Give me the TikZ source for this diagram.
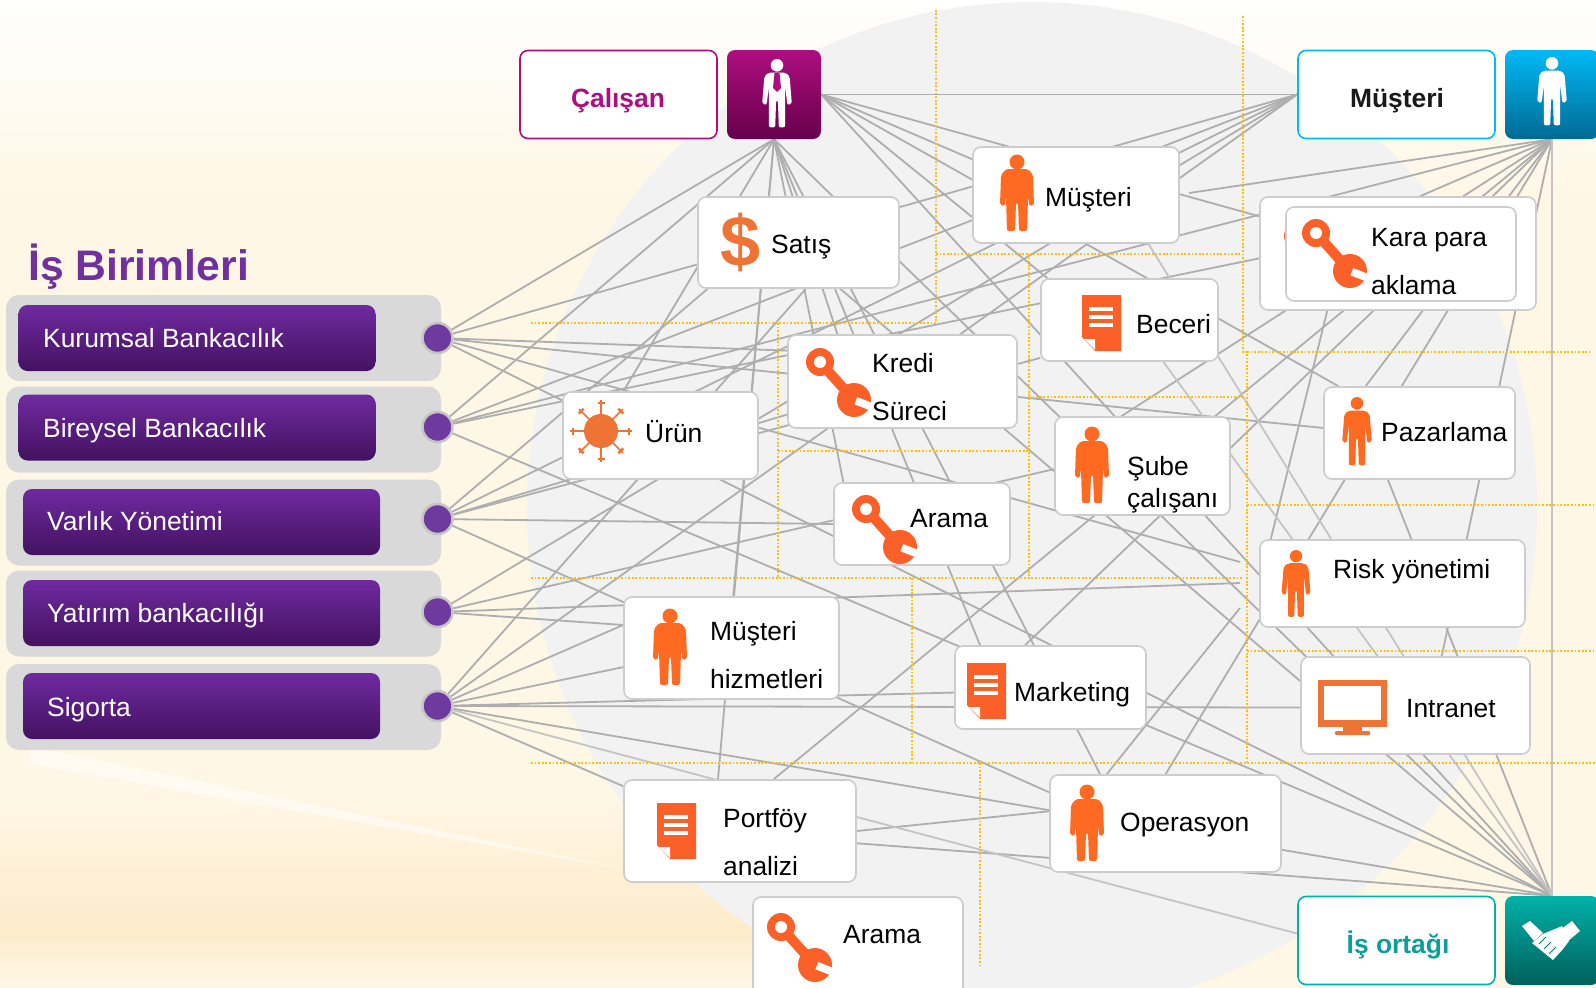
\documentclass[tikz,border=0pt]{standalone}
\usepackage{fontspec}
\setmainfont{Liberation Sans}
\definecolor{creamback}{HTML}{FFF7E6}
\definecolor{streakback}{HTML}{FDEBCB}
\definecolor{discgray}{HTML}{F2F2F2}
\definecolor{panelgray}{HTML}{D9D9D9}
\definecolor{boxgray}{HTML}{CDCDCD}
\definecolor{linkgray}{HTML}{AEAEAE}
\definecolor{lightlinkgray}{HTML}{C4C4C4}
\definecolor{gridorange}{HTML}{FFC000}
\definecolor{iconorange}{HTML}{ED7434}
\definecolor{personorange}{HTML}{FF6A22}
\definecolor{toolorange}{HTML}{FA6028}
\definecolor{buttontop}{HTML}{6F2AA0}
\definecolor{buttonbottom}{HTML}{431260}
\definecolor{dotpurple}{HTML}{6F3A9E}
\definecolor{titlepurple}{HTML}{7030A0}
\definecolor{calisanpink}{HTML}{AE0E7E}
\definecolor{calisandark}{HTML}{66004C}
\definecolor{musteriblue}{HTML}{00B9F5}
\definecolor{musteridark}{HTML}{006A94}
\definecolor{ortakteal}{HTML}{00B2A9}
\definecolor{ortakdark}{HTML}{00605C}
\definecolor{ortaktext}{HTML}{0E9E9A}
\pgfdeclarelayer{backdrop}
\pgfdeclarelayer{links}
\pgfsetlayers{backdrop,links,main}
\tikzset{
	x=1pt, y=-1pt,
	unitbox/.style={draw=boxgray, line width=1.6pt, fill=white, rounded corners=8pt, inner sep=0pt},
	unitlines/.style={anchor=west, align=left, inner sep=0pt, font=\fontsize{26.4}{48}\selectfont},
	unittext/.style={anchor=west, inner sep=0pt, text height=19pt, text depth=0pt, font=\fontsize{26.4}{30}\selectfont},
	panelbox/.style={fill=panelgray, rounded corners=13pt, minimum width=435pt, minimum height=86pt, inner sep=0pt},
	buttonbox/.style={top color=buttontop, bottom color=buttonbottom, rounded corners=9pt, minimum width=357pt, minimum height=66pt, inner sep=0pt},
	buttontext/.style={anchor=west, inner sep=0pt, text=white, text height=19pt, text depth=0pt, font=\fontsize{26.4}{30}\selectfont},
	hubdot/.style={circle, fill=dotpurple, draw=lightlinkgray, line width=2.5pt, minimum size=30pt, inner sep=0pt},
	rolebox/.style={fill=white, line width=1.6pt, rounded corners=8pt, minimum width=197pt, minimum height=88pt, inner sep=0pt},
	roleicon/.style={rounded corners=8pt, minimum width=94pt, minimum height=89pt, inner sep=0pt},
	roletext/.style={inner sep=0pt, text height=19pt, text depth=0pt, font=\bfseries\fontsize{26.4}{30}\selectfont},
	link/.style={linkgray, line width=1.8pt},
	lightlink/.style={lightlinkgray, line width=1.8pt},
	gridline/.style={gridorange, line width=1.8pt, dash pattern=on 1.8pt off 1.8pt},
	personpic/.pic={
		\path[pic actions] (0,7) circle (7pt);
		\path[pic actions, rounded corners=2pt] (-9,15) -- (9,15) -- (14,19) -- (16.5,50) -- (11.5,51) -- (9,30) -- (9,76) -- (2,76) -- (1,46) -- (-1,46) -- (-2,76) -- (-9,76) -- (-9,30) -- (-11.5,51) -- (-16.5,50) -- (-14,19) -- cycle;
	},
	stockypic/.pic={
		\path[pic actions] (0,7) circle (7.5pt);
		\path[pic actions, rounded corners=2pt] (-11,14) -- (11,14) -- (16,20) -- (17,50) -- (12.5,51) -- (11,42) -- (10,76) -- (2,76) -- (1,48) -- (-1,48) -- (-2,76) -- (-10,76) -- (-11,42) -- (-12.5,51) -- (-17,50) -- (-16,20) -- cycle;
	},
	wrenchpic/.pic={
		\fill[toolorange] (0,0) circle (14pt);
		\draw[toolorange, line width=10pt] (0,0) -- (33,37);
		\fill[white] (0,0) circle (6pt);
		\fill[toolorange] (34,38) circle (17pt);
		\fill[white] (37.2,35.1) -- (53.4,41.4) -- (50.6,48.6) -- (34.4,42.3) -- cycle;
	},
	docpic/.pic={
		\fill[toolorange] (0,0) -- (39,0) -- (39,56) -- (13,56) -- (0,42) -- cycle;
		\fill[white] (7,12) rectangle (31,15.5);
		\fill[white] (7,20) rectangle (31,23.5);
		\fill[white] (7,28) rectangle (31,31.5);
		\fill[white] (2,44) -- (13,44) -- (13,55) -- cycle;
	}
}
\begin{document}
\begin{tikzpicture}
	\useasboundingbox (0,0) rectangle (1596,988);

	\node[panelbox] (panela) at (223.5,338) {};
	\node[panelbox] (panelb) at (223.5,429.5) {};
	\node[panelbox] (panelc) at (223.5,522.5) {};
	\node[panelbox] (paneld) at (223.5,613.5) {};
	\node[panelbox] (panele) at (223.5,707) {};
	\node[buttonbox] (buttona) at (197,338) {};
	\node[buttonbox] (buttonb) at (197,427.5) {};
	\node[buttonbox] (buttonc) at (201.5,522) {};
	\node[buttonbox] (buttond) at (201.5,613) {};
	\node[buttonbox] (buttone) at (201.5,706) {};
	\node[buttontext] (texta) at (43,338) {Kurumsal Bankacılık};
	\node[buttontext] (textb) at (43,428) {Bireysel Bankacılık};
	\node[buttontext] (textc) at (47,521) {Varlık Yönetimi};
	\node[buttontext] (textd) at (47,613) {Yatırım bankacılığı};
	\node[buttontext] (texte) at (47,707) {Sigorta};
	\node[hubdot] (kurumsal) at (437.5,338) {};
	\node[hubdot] (bireysel) at (437.5,427) {};
	\node[hubdot] (varlik) at (437.5,519) {};
	\node[hubdot] (yatirim) at (437.5,612) {};
	\node[hubdot] (sigorta) at (437.5,706) {};
	\node[anchor=base west, inner sep=0pt, text=titlepurple, font=\bfseries\fontsize{42.7}{48}\selectfont] (baslik) at (28,280) {İş Birimleri};

	\node[rolebox, draw=calisanpink] (calisan) at (618.5,94.5) {};
	\node[roleicon, top color=calisanpink, bottom color=calisandark] (calisanicon) at (774,94.5) {};
	\node[roletext, text=calisanpink] (calisantext) at (618,98) {Çalışan};
	\node[rolebox, draw=musteriblue] (musteri) at (1396.5,94.5) {};
	\node[roleicon, top color=musteriblue, bottom color=musteridark] (musteriicon) at (1552,94.5) {};
	\node[roletext, text=black!90] (musteritext) at (1397,98) {Müşteri};
	\node[rolebox, draw=ortakteal] (ortak) at (1396.5,940.5) {};
	\node[roleicon, top color=ortakteal, bottom color=ortakdark] (ortakicon) at (1552,940.5) {};
	\node[roletext, text=ortaktext] (ortaktext) at (1398,944) {İş ortağı};

	\node[unitbox, minimum width=201pt, minimum height=91pt] (satis) at (798.5,242.5) {};
	\node[unitbox, minimum width=206pt, minimum height=96pt] (musbox) at (1076,195) {};
	\node[unitbox, minimum width=276pt, minimum height=113pt] (kara) at (1398,253.5) {};
	\pic at (1298,236) {wrenchpic};
	\node[unitbox, minimum width=230pt, minimum height=94pt] (karain) at (1401,254) {};
	\node[unitbox, minimum width=177pt, minimum height=82pt] (beceri) at (1129.5,320) {};
	\node[unitbox, minimum width=229pt, minimum height=93pt] (kredi) at (902.5,381.5) {};
	\node[unitbox, minimum width=195pt, minimum height=87pt] (urun) at (660.5,435.5) {};
	\node[unitbox, minimum width=175pt, minimum height=98pt] (sube) at (1142.5,466) {};
	\node[unitbox, minimum width=176pt, minimum height=82pt] (arama) at (922,524) {};
	\node[unitbox, minimum width=191pt, minimum height=92pt] (pazarlama) at (1419.5,433) {};
	\node[unitbox, minimum width=265pt, minimum height=87pt] (risk) at (1392.5,583.5) {};
	\node[unitbox, minimum width=215pt, minimum height=102pt] (hizmet) at (731.5,648) {};
	\node[unitbox, minimum width=191pt, minimum height=83pt] (marketing) at (1050.5,687.5) {};
	\node[unitbox, minimum width=229pt, minimum height=97pt] (intranet) at (1415.5,705.5) {};
	\node[unitbox, minimum width=232pt, minimum height=102pt] (portfoy) at (740,831) {};
	\node[unitbox, minimum width=231pt, minimum height=97pt] (operasyon) at (1165.5,823.5) {};
	\node[unitbox, minimum width=210pt, minimum height=100pt] (aramaiki) at (858,947) {};

	\node[unittext] (satistext) at (771,244) {Satış};
	\node[unittext] (musboxtext) at (1045,197) {Müşteri};
	\node[unitlines] (karatext) at (1371,262) {Kara para\\aklama};
	\node[unittext] (becerit) at (1136,324) {Beceri};
	\node[unitlines] (kreditext) at (872,387) {Kredi\\Süreci};
	\node[unittext] (uruntext) at (645,433) {Ürün};
	\node[unitlines] (subetext) at (1127,485) {Şube\\[-16pt]çalışanı};
	\node[unittext] (aramatext) at (910,518) {Arama};
	\node[unittext] (pazarlamatext) at (1381,432) {Pazarlama};
	\node[unittext] (risktext) at (1333,569) {Risk yönetimi};
	\node[unitlines] (hizmettext) at (710,655) {Müşteri\\hizmetleri};
	\node[unittext] (marketingtext) at (1014,692) {Marketing};
	\node[unittext] (intranettext) at (1406,708) {Intranet};
	\node[unitlines] (portfoytext) at (723,842) {Portföy\\analizi};
	\node[unittext] (operasyontext) at (1120,822) {Operasyon};
	\node[unittext] (aramaikitext) at (843,934) {Arama};

	\pic[fill=personorange] at (1017,155) {stockypic};
	\pic[fill=personorange, scale=.9] at (1357,397) {personpic};
	\pic[fill=personorange] at (1092,427) {stockypic};
	\pic[fill=personorange, scale=.88] at (1296,550) {personpic};
	\pic[fill=personorange] at (670,609) {stockypic};
	\pic[fill=personorange] at (1087,785) {stockypic};
	\pic[fill=white, scale=.9] at (777,59) {personpic};
	\fill[calisanpink] (774.5,73) -- (779.5,73) -- (781,88) -- (777,92) -- (773,88) -- cycle;
	\pic[fill=white, scale=.9] at (1552,57) {personpic};
	\pic at (820,362) {wrenchpic};
	\pic at (866,509) {wrenchpic};
	\pic at (781,927) {wrenchpic};
	\pic at (1316,233) {wrenchpic};
	\pic at (1082,295) {docpic};
	\pic at (967,663) {docpic};
	\pic at (657,803) {docpic};
	\node[inner sep=0pt, text=iconorange, font=\bfseries\fontsize{72}{72}\selectfont] (dolar) at (740.5,242) {\$};
	\fill[iconorange] (601,431) circle (17pt);
	\foreach \a in {0,45,...,315}{
		\draw[iconorange, line width=1.5pt] (601,431) -- +(\a:31pt);
		\draw[iconorange, line width=2.5pt] (601,431) ++(\a:28pt) ++(\a+90:3.5pt) -- ++(\a-90:7pt);
	}
	\fill[iconorange] (1318,680) rectangle (1387,727);
	\fill[white] (1324,686) rectangle (1381,720);
	\fill[iconorange] (1343,727) rectangle (1362,731);
	\fill[iconorange, rounded corners=1pt] (1335,731) rectangle (1370,735);
	\fill[white] (1522,926) -- (1530,921) -- (1543,933) -- (1534,941) -- cycle;
	\fill[white] (1580,931) -- (1572,921) -- (1560,930) -- (1568,941) -- cycle;
	\fill[white] (1543,934) -- (1562,926) -- (1569,941) -- (1563,949) -- (1553,960) -- (1532,943) -- cycle;
	\draw[ortakteal!70!black, line width=1pt] (1539,944) -- (1546,937) (1544,949) -- (1551,942) (1549,954) -- (1556,947);

	\coordinate (musgap) at (1189,193);
	\coordinate (riskgapa) at (1240,562);
	\coordinate (riskgapb) at (1240,583);
	\coordinate (riskgapc) at (1240,608);

	\begin{pgfonlayer}{links}
		\foreach \hub/\unit in {
			kurumsal/calisanicon.south, kurumsal/musteri.west, kurumsal/kredi.165.1, kurumsal/pazarlama.177.6, kurumsal/riskgapa, kurumsal/ortakicon.north,
			bireysel/calisanicon.south, bireysel/musteri.west, bireysel/musteriicon.south, bireysel/kara.182.7, bireysel/ortakicon.north,
			varlik/musteri.west, varlik/satis.207.7, varlik/arama.180.7, varlik/kredi.196.3, varlik/beceri.203.2, varlik/operasyon.165.2,
			yatirim/musteri.west, yatirim/sube.182.6, yatirim/riskgapb, yatirim/hizmet.168.9,
			sigorta/satis.279.4, sigorta/musteri.west, sigorta/hizmet.168.9, sigorta/hizmet.190.5, sigorta/marketing.183.9, sigorta/intranet.181.3, sigorta/ortakicon.north, sigorta/portfoy.159.7,
			calisanicon.south/urun.130.8, calisanicon.south/portfoy.113.3, calisanicon.south/hizmet.88.3, calisanicon.south/arama.152, calisanicon.south/kredi.144.2, calisanicon.south/marketing.149.9, calisanicon.south/operasyon.143.1, calisanicon.south/ortakicon.north,
			calisanicon.east/musteri.west, calisanicon.east/kara.165.6, calisanicon.east/musbox.161.2, calisanicon.east/pazarlama.150, calisanicon.east/beceri.153, calisanicon.east/ortakicon.north,
			musteriicon.south/musgap, musteriicon.south/kara.69.6, musteriicon.south/sube.113.7, musteriicon.south/portfoy.57.1, musteriicon.south/marketing.121.6, musteriicon.south/pazarlama.139.8, musteriicon.south/operasyon.90.6, musteriicon.south/intranet.62.3,
			kara.219.7/risk.160, satis.312.4/ortakicon.north, portfoy.354.1/ortakicon.north, portfoy.0.5/operasyon.174.8, pazarlama.236.4/ortakicon.north, operasyon.140.8/riskgapc}{
			\draw[link] (\hub) -- (\unit);
		}
		\foreach \hub/\unit in {
			sigorta/ortak.176.8, musbox.326.7/ortakicon.north, beceri.309.3/ortakicon.north, musteriicon.south/ortakicon.north}{
			\draw[lightlink] (\hub) -- (\unit);
		}
		\draw[gridline] (531,323) -- (936,323) -- (936,8);
		\draw[gridline] (936,254) -- (1240,254);
		\draw[gridline] (1243,16) -- (1243,352) -- (1247,352) -- (1247,762);
		\draw[gridline] (1029,254) -- (1029,578);
		\draw[gridline] (1029,397) -- (1243,397);
		\draw[gridline] (778,323) -- (778,578);
		\draw[gridline] (778,451) -- (1029,451);
		\draw[gridline] (531,578) -- (1243,578);
		\draw[gridline] (912,578) -- (912,763);
		\draw[gridline] (531,763) -- (1596,763);
		\draw[gridline] (980,763) -- (980,968);
		\draw[gridline] (1247,352) -- (1590,352);
		\draw[gridline] (1247,505) -- (1596,505);
		\draw[gridline] (1247,651) -- (1596,651);
	\end{pgfonlayer}

	\begin{pgfonlayer}{backdrop}
		\fill[creamback] (0,0) rectangle (1596,988);
		\shade[top color=white, bottom color=creamback] (0,0) rectangle (1596,190);
		\shade[top color=creamback, bottom color=streakback] (0,790) rectangle (1000,930);
		\shade[top color=streakback, bottom color=creamback] (0,930) rectangle (1000,988);
		\fill[white, opacity=.5] (30,746) -- (640,872) -- (30,764) -- cycle;
		\begin{scope}
			\clip (0,0) rectangle (1596,988);
			\fill[discgray] (1032,507) circle (505pt);
		\end{scope}
	\end{pgfonlayer}
\end{tikzpicture}
\end{document}
